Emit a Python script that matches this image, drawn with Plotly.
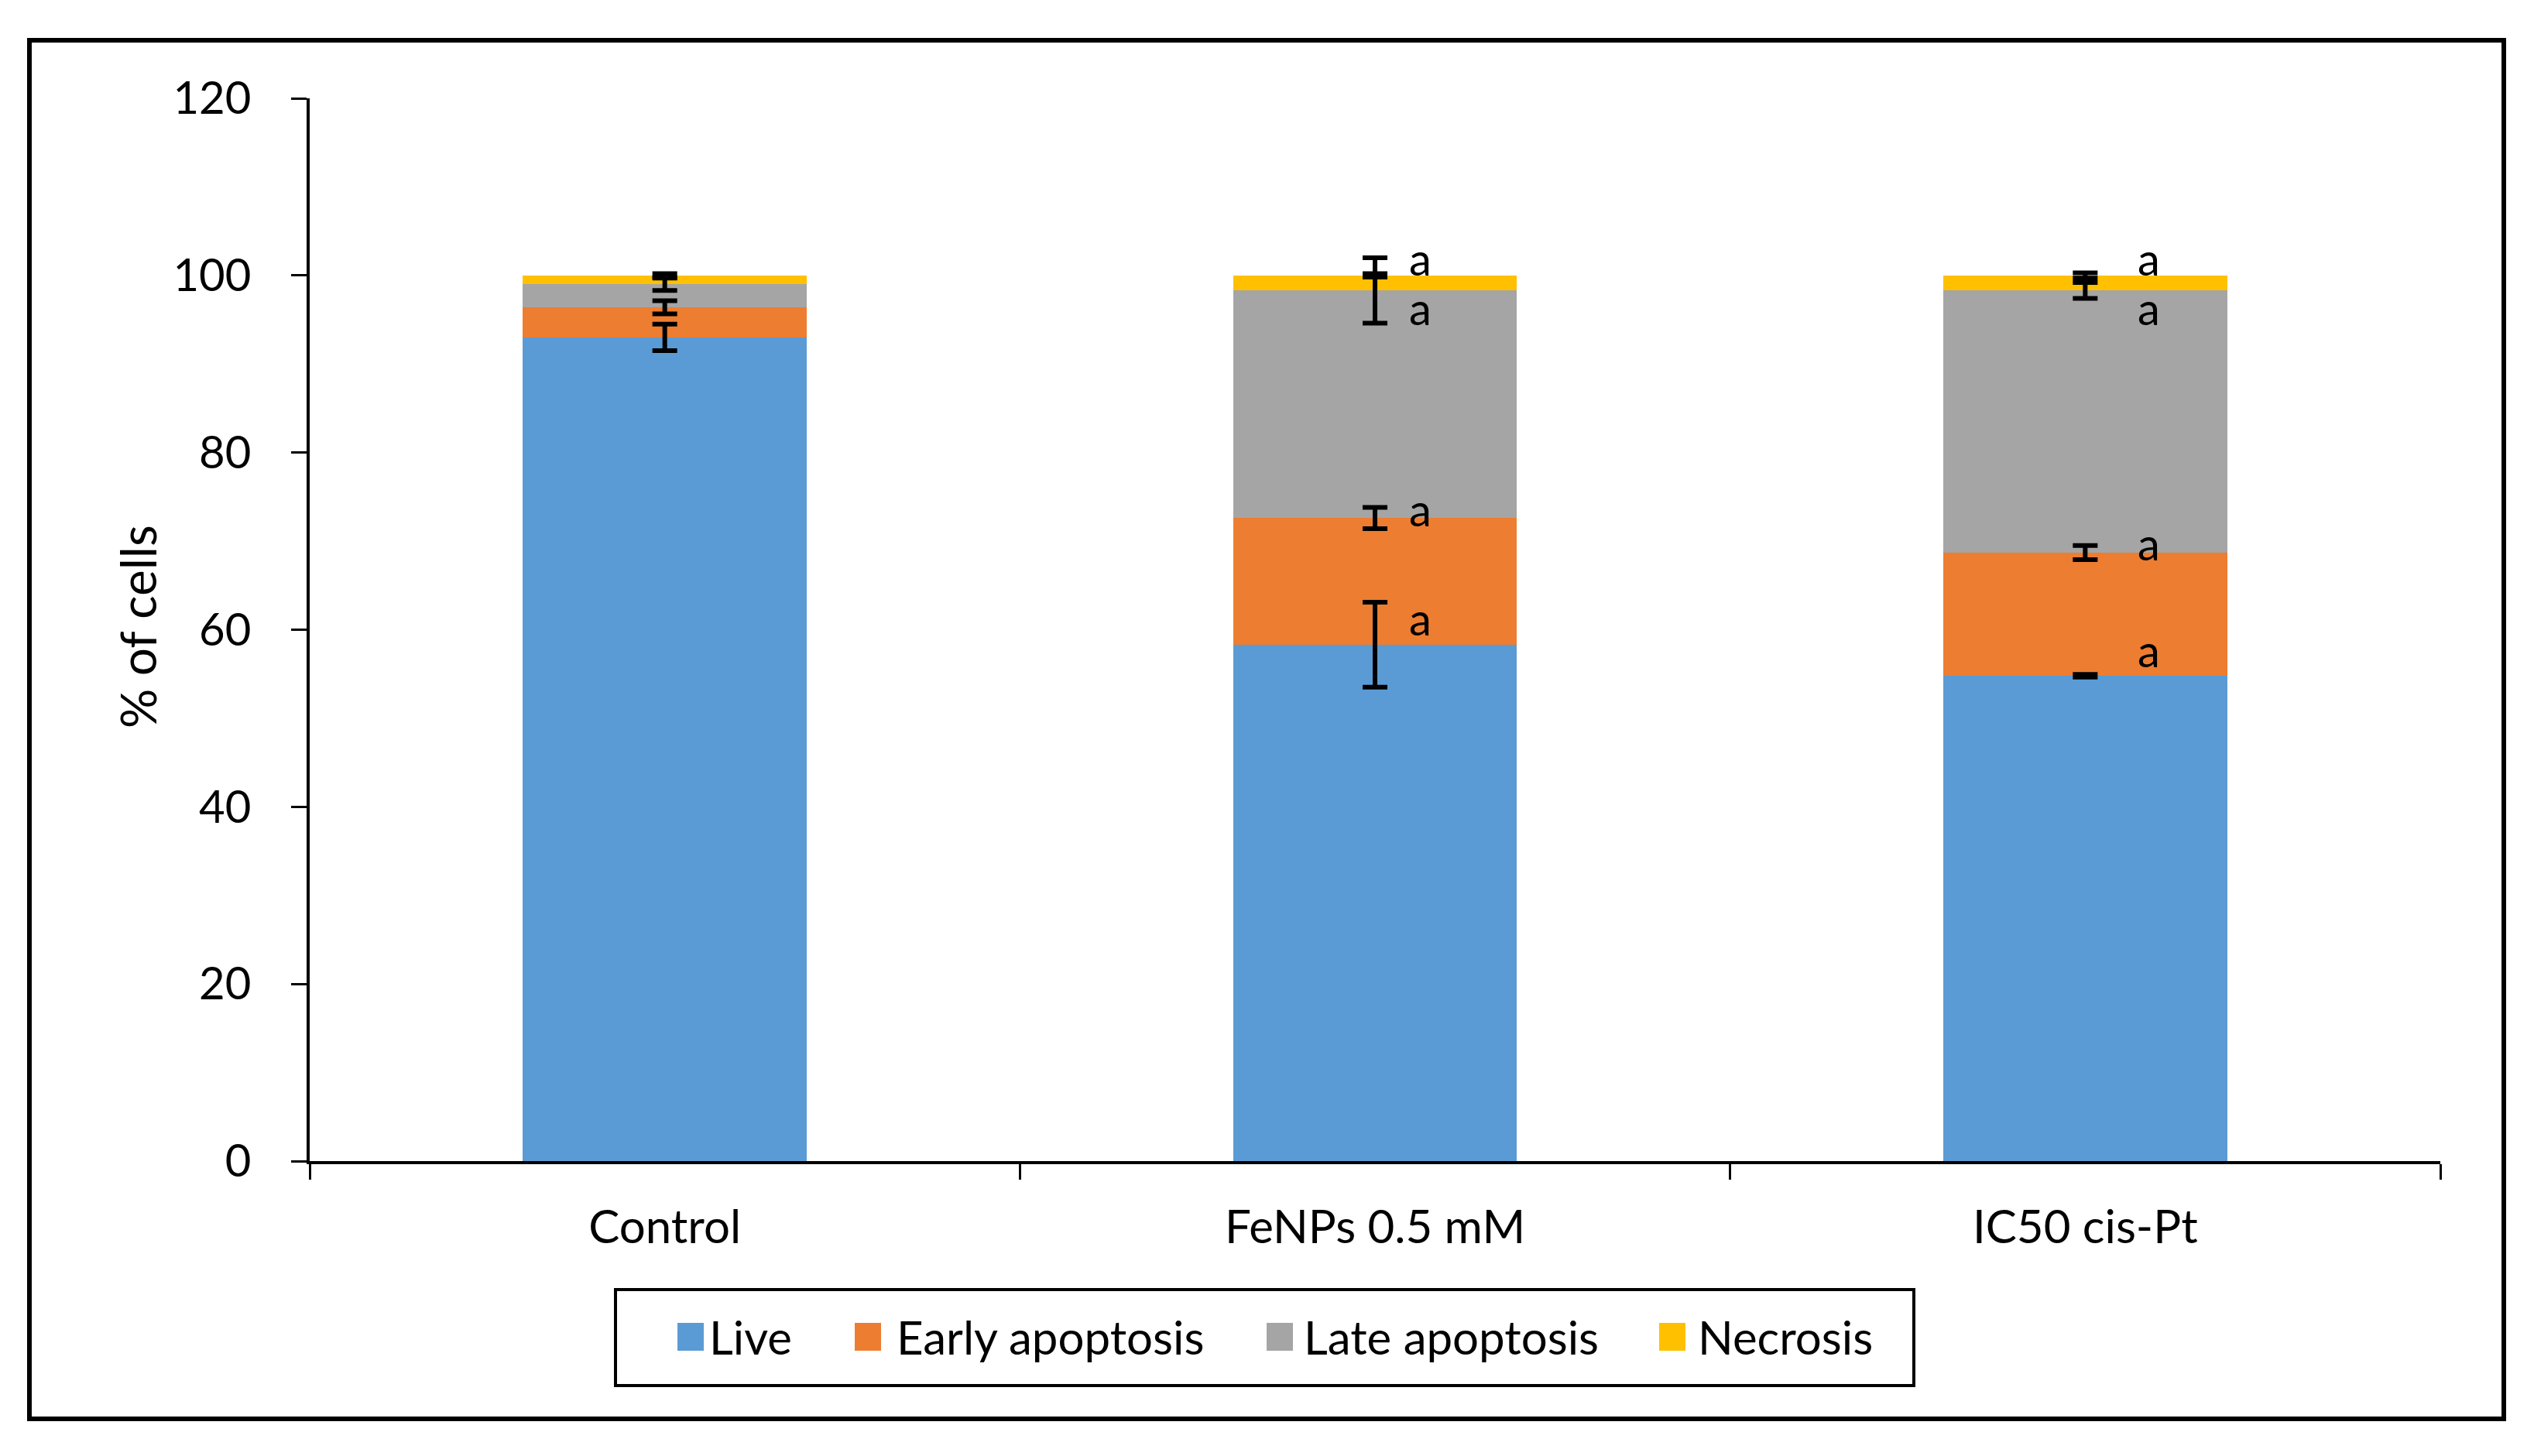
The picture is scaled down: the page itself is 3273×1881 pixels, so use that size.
import numpy as np
import plotly.graph_objects as go

# ---------------- data ----------------
categories = ["Control", "FeNPs 0.5 mM", "IC50 cis-Pt"]
series_names = ["Live", "Early apoptosis", "Late apoptosis", "Necrosis"]

live = [93.0, 58.3, 54.8]
early = [3.4, 14.3, 13.9]
late = [2.6, 25.7, 29.6]
necrosis = [1.0, 1.7, 1.7]

live_err = [1.5, 4.8, 0.15]
early_err = [0.75, 1.2, 0.8]
late_err = [0.7, 3.7, 0.9]
necrosis_err = [0.2, 0.2, 0.3]

# significance letters (per category, per series)
letters_live = ["", "a", "a"]
letters_early = ["", "a", "a"]
letters_late = ["", "a", "a"]
letters_necrosis = ["", "a", "a"]

y_ticks = [0, 20, 40, 60, 80, 100, 120]

# ---------------- style ----------------
colors = ["#5B9BD5", "#ED7D31", "#A5A5A5", "#FFC000"]
FONT = "Lato"
W, H = 3273, 1881
L, R, T, B = 392, 3144, 119, 1492  # plot area in px


def px(xp, yp):
    """pixel -> paper coordinates"""
    return (xp - L) / (R - L), (B - yp) / (B - T)


values = [live, early, late, necrosis]
errors = [live_err, early_err, late_err, necrosis_err]
letters = [letters_live, letters_early, letters_late, letters_necrosis]

fig = go.Figure()

for name, vals, col in zip(series_names, values, colors):
    fig.add_trace(go.Bar(
        x=categories, y=vals, name=name,
        marker=dict(color=col, line=dict(width=0)),
        showlegend=False, hoverinfo="x+y+name",
    ))

# error bars at cumulative tops (drawn above all bars)
tops = np.cumsum(np.array(values), axis=0)
for name, top, err in zip(series_names, tops, errors):
    fig.add_trace(go.Scatter(
        x=categories, y=top, mode="markers",
        marker=dict(size=1, opacity=0, color="black"),
        error_y=dict(type="data", array=err, visible=True,
                     color="black", thickness=6, width=16),
        showlegend=False, hoverinfo="skip",
    ))

# significance letters
letter_xshift = [0, 58, 82]
letter_yshift = [34, 12, -22, 22]
annotations = []
for si, (top, labs) in enumerate(zip(tops, letters)):
    for gi, cat in enumerate(categories):
        if labs[gi]:
            annotations.append(dict(
                x=cat, y=float(top[gi]), xref="x", yref="y",
                text=labs[gi], showarrow=False,
                xshift=letter_xshift[gi], yshift=letter_yshift[si],
                font=dict(family=FONT, size=58, color="black"),
            ))

# y-axis title
tx, ty = px(170, 802)
annotations.append(dict(
    x=tx, y=ty, xref="paper", yref="paper", text="% of cells",
    showarrow=False, textangle=-90, xanchor="center", yanchor="middle",
    font=dict(family=FONT, size=64, color="black"),
))

shapes = []
# outer frame
fx0, fy1 = px(30, 44)
fx1, fy0 = px(3226, 1825)
shapes.append(dict(type="rect", xref="paper", yref="paper",
                   x0=fx0, y0=fy0, x1=fx1, y1=fy1,
                   line=dict(color="black", width=6), fillcolor="rgba(0,0,0,0)"))
# legend box
lx0, ly1 = px(787, 1658)
lx1, ly0 = px(2464, 1782)
shapes.append(dict(type="rect", xref="paper", yref="paper",
                   x0=lx0, y0=ly0, x1=lx1, y1=ly1,
                   line=dict(color="black", width=4), fillcolor="white"))
# legend entries
swatch_x = [867, 1096, 1628, 2135]
text_x = [906, 1148, 1674, 2183]
for name, col, sx, tx_ in zip(series_names, colors, swatch_x, text_x):
    a0, b1 = px(sx, 1701)
    a1, b0 = px(sx + 34, 1737)
    shapes.append(dict(type="rect", xref="paper", yref="paper",
                       x0=a0, y0=b0, x1=a1, y1=b1,
                       line=dict(width=0), fillcolor=col))
    ax, ay = px(tx_, 1719)
    annotations.append(dict(
        x=ax, y=ay, xref="paper", yref="paper", text=name,
        showarrow=False, xanchor="left", yanchor="middle",
        font=dict(family=FONT, size=60, color="black"),
    ))

fig.update_layout(
    width=W, height=H,
    margin=dict(l=L, r=W - R, t=T, b=H - B, pad=0),
    paper_bgcolor="white", plot_bgcolor="white",
    barmode="stack", bargap=0.6,
    font=dict(family=FONT, color="black"),
    showlegend=False,
    annotations=annotations,
    shapes=shapes,
    xaxis=dict(
        showline=True, linecolor="black", linewidth=4,
        ticks="outside", tickson="boundaries", ticklen=20, tickwidth=3,
        tickcolor="black", showgrid=False, zeroline=False,
        tickfont=dict(family=FONT, size=60, color="black"),
        ticklabelstandoff=30,
    ),
    yaxis=dict(
        range=[0, 120], tickvals=y_ticks, showline=True, linecolor="black",
        linewidth=4, ticks="outside", ticklen=20, tickwidth=3,
        tickcolor="black", showgrid=False, zeroline=False,
        tickfont=dict(family=FONT, size=58, color="black"),
        ticklabelstandoff=40,
    ),
)

fig.write_html("out.html")
